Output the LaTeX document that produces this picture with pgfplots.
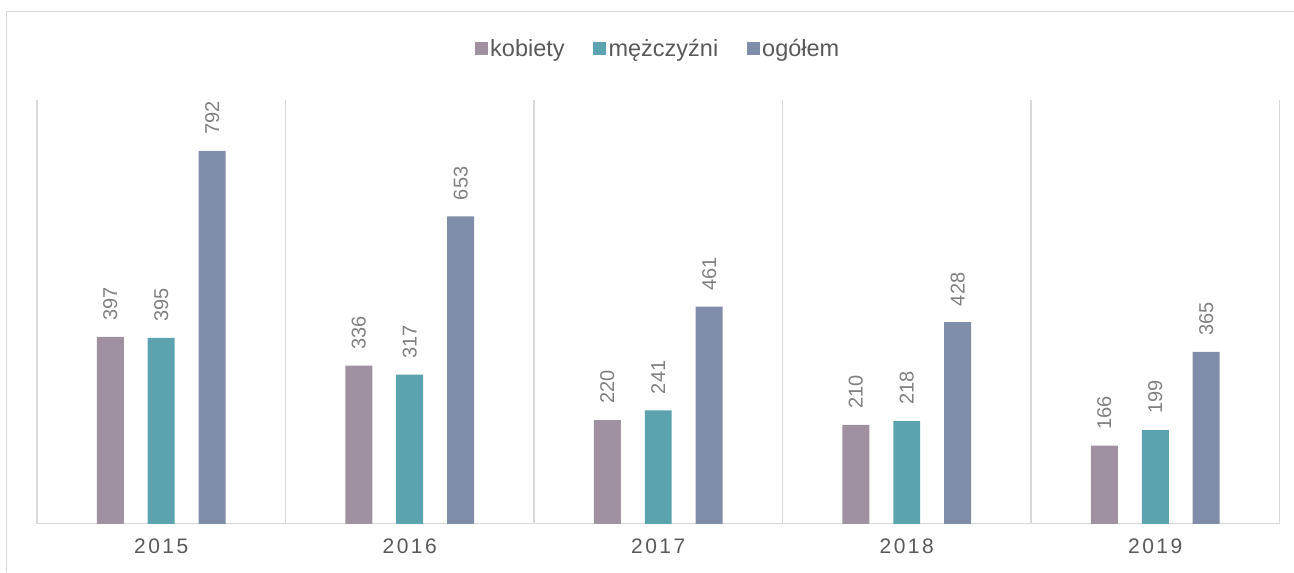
\documentclass[border=0pt]{standalone}
\usepackage{fontspec}
\setmainfont{Liberation Sans}
\usepackage{pgfplots}
\pgfplotsset{compat=1.18}
\definecolor{ckob}{RGB}{160,145,160}
\definecolor{cmen}{RGB}{91,163,174}
\definecolor{cogo}{RGB}{127,141,168}
\definecolor{gridgray}{RGB}{217,217,217}
\definecolor{txtgray}{RGB}{89,89,89}
\definecolor{lblgray}{RGB}{128,128,128}
\newcommand{\lsp}{\hspace{2.5pt}}
\begin{document}
\begin{tikzpicture}
\path (0,0) rectangle (1294pt,572pt);
\draw[gridgray, line width=1pt] (7pt,0) -- (7pt,560pt) -- (1294pt,560pt);
\begin{axis}[
  at={(37pt,48pt)}, anchor=south west,
  scale only axis, width=1243pt, height=424pt,
  xmin=-0.5, xmax=4.5, ymin=0, ymax=900,
  axis x line*=bottom, axis y line=none,
  x axis line style={gridgray, line width=1.2pt},
  xtick={0,1,2,3,4},
  xticklabels={2\lsp0\lsp1\lsp5, 2\lsp0\lsp1\lsp6, 2\lsp0\lsp1\lsp7, 2\lsp0\lsp1\lsp8, 2\lsp0\lsp1\lsp9},
  xticklabel style={font=\fontsize{21}{25}\selectfont, text=txtgray, yshift=-12pt},
  major tick length=0pt,
  extra x ticks={-0.5,0.5,1.5,2.5,3.5,4.5},
  extra x tick labels={},
  extra x tick style={grid=major, major grid style={gridgray, line width=1.2pt}},
  ytick=\empty,
  ybar=24pt, bar width=27pt,
  /pgf/number format/assume math mode=true,
  nodes near coords,
  every node near coord/.append style={rotate=90, anchor=west, font=\fontsize{20}{24}\selectfont, text=lblgray, inner sep=0pt, inner xsep=16pt},
  legend columns=3,
  legend style={at={(0.5,1)}, anchor=center, yshift=51pt, draw=none, fill=none,
    font=\fontsize{23.5}{28}\selectfont, text=txtgray,
    /tikz/every even column/.append style={column sep=26pt},
    nodes={inner xsep=2.5pt}},
  legend image code/.code={\fill[#1] (0pt,-6.5pt) rectangle (13pt,6.5pt);},
]
\addplot[fill=ckob, draw=none] coordinates {(0,397) (1,336) (2,220) (3,210) (4,166)};
\addplot[fill=cmen, draw=none] coordinates {(0,395) (1,317) (2,241) (3,218) (4,199)};
\addplot[fill=cogo, draw=none] coordinates {(0,792) (1,653) (2,461) (3,428) (4,365)};
\legend{kobiety, mężczyźni, ogółem}
\end{axis}
\end{tikzpicture}
\end{document}
